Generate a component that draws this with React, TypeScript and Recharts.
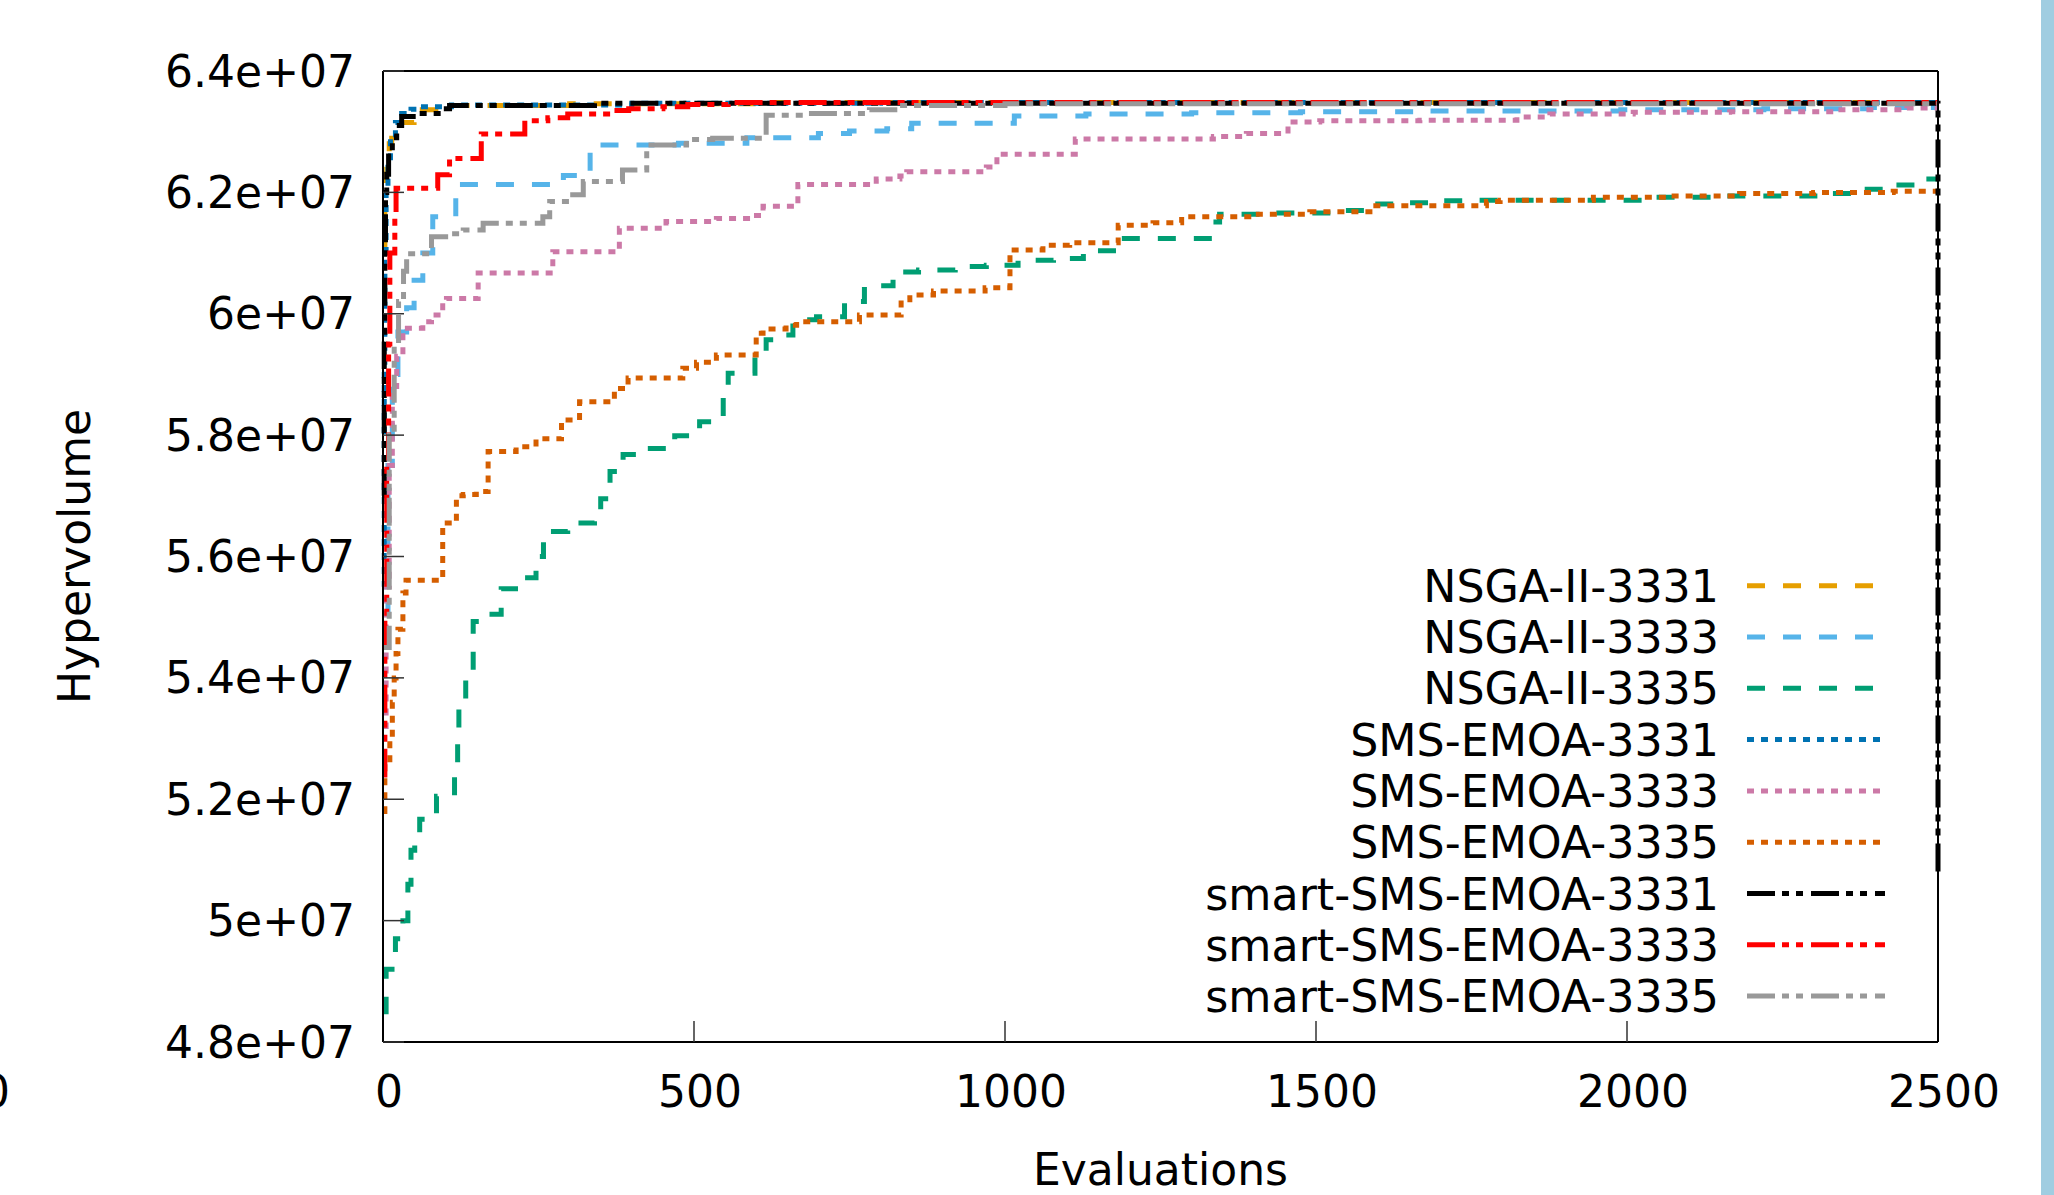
import React from "react";
import { LineChart, Line, XAxis, YAxis } from "recharts";

type Pt = [number, number];

const FONT = "DejaVu Sans";

const X_TICKS = [0, 500, 1000, 1500, 2000, 2500];
const Y_TICKS = [4.8e7, 5.0e7, 5.2e7, 5.4e7, 5.6e7, 5.8e7, 6.0e7, 6.2e7, 6.4e7];
const Y_TICK_LABELS = ["4.8e+07", "5e+07", "5.2e+07", "5.4e+07", "5.6e+07", "5.8e+07", "6e+07", "6.2e+07", "6.4e+07"];

// [evaluations, hypervolume]
const NSGA_3331: Pt[] = [
  [0, 6.10e7], [3, 6.22e7], [6, 6.25e7], [10, 6.28e7], [14, 6.30e7], [20, 6.315e7],
  [50, 6.318e7], [55, 6.336e7], [85, 6.343e7], [300, 6.346e7], [600, 6.348e7], [2500, 6.348e7],
];

const NSGA_3333: Pt[] = [
  [0, 5.45e7], [8, 5.75e7], [15, 5.90e7], [24, 5.97e7], [38, 6.01e7], [50, 6.055e7],
  [64, 6.10e7], [80, 6.16e7], [117, 6.213e7], [290, 6.228e7], [333, 6.278e7], [475, 6.281e7],
  [585, 6.290e7], [700, 6.297e7], [750, 6.301e7], [810, 6.305e7], [850, 6.314e7], [1015, 6.326e7],
  [1130, 6.329e7], [1300, 6.331e7], [1475, 6.333e7], [1667, 6.334e7], [1990, 6.336e7],
  [2220, 6.338e7], [2390, 6.340e7], [2500, 6.340e7],
];

const NSGA_3335: Pt[] = [
  [0, 4.85e7], [5, 4.92e7], [20, 4.97e7], [32, 5.00e7], [40, 5.06e7], [45, 5.116e7],
  [51, 5.13e7], [59, 5.167e7], [86, 5.205e7], [115, 5.26e7], [120, 5.31e7], [122, 5.355e7],
  [133, 5.405e7], [145, 5.493e7], [169, 5.505e7], [190, 5.547e7], [228, 5.565e7], [246, 5.60e7],
  [258, 5.641e7], [297, 5.655e7], [340, 5.675e7], [350, 5.695e7], [365, 5.74e7], [386, 5.768e7],
  [423, 5.778e7], [469, 5.799e7], [509, 5.822e7], [547, 5.869e7], [555, 5.902e7], [598, 5.935e7],
  [616, 5.957e7], [635, 5.965e7], [659, 5.990e7], [697, 5.995e7], [742, 6.02e7], [774, 6.046e7],
  [820, 6.069e7], [861, 6.072e7], [920, 6.078e7], [970, 6.080e7], [1021, 6.088e7], [1078, 6.091e7],
  [1126, 6.104e7], [1185, 6.124e7], [1335, 6.151e7], [1345, 6.164e7], [1421, 6.166e7],
  [1533, 6.170e7], [1587, 6.181e7], [1640, 6.183e7], [1696, 6.186e7], [1756, 6.187e7],
  [2042, 6.192e7], [2155, 6.194e7], [2323, 6.198e7], [2377, 6.205e7], [2428, 6.212e7],
  [2479, 6.222e7], [2500, 6.222e7],
];

const SMS_3331: Pt[] = [
  [0, 5.55e7], [2, 5.90e7], [3, 6.10e7], [5, 6.20e7], [8, 6.25e7], [12, 6.29e7], [20, 6.315e7],
  [30, 6.33e7], [45, 6.337e7], [60, 6.341e7], [110, 6.344e7], [400, 6.347e7], [800, 6.348e7],
  [2500, 6.348e7],
];

const SMS_3333: Pt[] = [
  [0, 5.32e7], [5, 5.55e7], [10, 5.75e7], [15, 5.88e7], [22, 5.93e7], [32, 5.976e7], [64, 5.987e7],
  [78, 5.998e7], [96, 6.02e7], [102, 6.025e7], [153, 6.067e7], [273, 6.102e7], [380, 6.141e7],
  [455, 6.152e7], [536, 6.157e7], [595, 6.162e7], [611, 6.177e7], [667, 6.213e7], [793, 6.222e7],
  [831, 6.227e7], [842, 6.234e7], [970, 6.242e7], [987, 6.263e7], [1113, 6.288e7], [1335, 6.292e7],
  [1388, 6.297e7], [1455, 6.316e7], [1506, 6.318e7], [1667, 6.319e7], [1823, 6.324e7],
  [1876, 6.329e7], [2010, 6.332e7], [2165, 6.333e7], [2337, 6.336e7], [2450, 6.339e7],
  [2500, 6.339e7],
];

const SMS_3335: Pt[] = [
  [0, 5.18e7], [3, 5.26e7], [11, 5.30e7], [15, 5.36e7], [18, 5.40e7], [21, 5.44e7], [24, 5.48e7],
  [32, 5.54e7], [37, 5.561e7], [96, 5.655e7], [118, 5.70e7], [129, 5.702e7], [150, 5.707e7],
  [169, 5.773e7], [214, 5.781e7], [246, 5.794e7], [287, 5.825e7], [316, 5.855e7], [372, 5.877e7],
  [394, 5.894e7], [482, 5.910e7], [504, 5.92e7], [536, 5.932e7], [600, 5.968e7], [611, 5.975e7],
  [648, 5.981e7], [665, 5.987e7], [766, 5.998e7], [833, 6.023e7], [847, 6.031e7], [885, 6.0375e7],
  [968, 6.043e7], [1008, 6.105e7], [1061, 6.113e7], [1104, 6.117e7], [1182, 6.146e7],
  [1238, 6.150e7], [1284, 6.160e7], [1399, 6.164e7], [1490, 6.168e7], [1592, 6.178e7],
  [1774, 6.185e7], [1796, 6.187e7], [1946, 6.192e7], [2070, 6.194e7], [2181, 6.198e7],
  [2300, 6.20e7], [2428, 6.202e7], [2500, 6.202e7],
];

const SMART_3331: Pt[] = [
  [0, 5.70e7], [2, 5.95e7], [3, 6.10e7], [4, 6.20e7], [6, 6.23e7], [9, 6.26e7], [15, 6.29e7],
  [22, 6.31e7], [30, 6.325e7], [54, 6.330e7], [94, 6.338e7], [107, 6.343e7], [340, 6.347e7],
  [2499, 6.347e7], [2500, 5.08e7],
];

const SMART_3333: Pt[] = [
  [0, 5.24e7], [3, 5.50e7], [6, 5.75e7], [9, 5.95e7], [11, 6.10e7], [19, 6.16e7], [21, 6.207e7],
  [88, 6.229e7], [107, 6.256e7], [158, 6.296e7], [228, 6.318e7], [265, 6.323e7], [297, 6.329e7],
  [370, 6.335e7], [395, 6.338e7], [450, 6.341e7], [490, 6.345e7], [555, 6.348e7], [2500, 6.348e7],
];

const SMART_3335: Pt[] = [
  [0, 5.45e7], [10, 5.80e7], [18, 5.95e7], [25, 6.02e7], [33, 6.07e7], [38, 6.099e7], [78, 6.127e7],
  [105, 6.132e7], [129, 6.138e7], [161, 6.149e7], [257, 6.16e7], [268, 6.185e7], [305, 6.196e7],
  [322, 6.218e7], [385, 6.237e7], [424, 6.278e7], [488, 6.287e7], [530, 6.289e7], [616, 6.327e7],
  [680, 6.330e7], [782, 6.336e7], [830, 6.343e7], [1000, 6.346e7], [2500, 6.346e7],
];

const DASHED = "18 18";
const DOTTED = "7 7";
const DASH_DOT = "28 7 7 7 7 8";

const SERIES = [
  { name: "NSGA-II-3331", data: NSGA_3331, color: "#e69f00", dash: DASHED, len: 126 },
  { name: "NSGA-II-3333", data: NSGA_3333, color: "#56b4e9", dash: DASHED, len: 126 },
  { name: "NSGA-II-3335", data: NSGA_3335, color: "#009e73", dash: DASHED, len: 126 },
  { name: "SMS-EMOA-3331", data: SMS_3331, color: "#0072b2", dash: DOTTED, len: 133 },
  { name: "SMS-EMOA-3333", data: SMS_3333, color: "#cc79a7", dash: DOTTED, len: 133 },
  { name: "SMS-EMOA-3335", data: SMS_3335, color: "#d55e00", dash: DOTTED, len: 133 },
  { name: "smart-SMS-EMOA-3331", data: SMART_3331, color: "#000000", dash: DASH_DOT, len: 138 },
  { name: "smart-SMS-EMOA-3333", data: SMART_3333, color: "#ff0000", dash: DASH_DOT, len: 138 },
  { name: "smart-SMS-EMOA-3335", data: SMART_3335, color: "#999999", dash: DASH_DOT, len: 138 },
];

const rows = (pts: Pt[]) => pts.map(([x, y]) => ({ x, y }));

const border = { stroke: "#000", strokeWidth: 2 };
const tickLine = { stroke: "#333", strokeWidth: 1.5 };
const tickText = { fill: "#000", fontSize: 44, fontFamily: FONT };

export default function App() {
  return (
    <div style={{ position: "absolute", left: 0, top: 0, width: 2054, height: 1195, background: "#fff" }}>
      <LineChart width={2054} height={1195} margin={{ top: 0, right: 0, bottom: 0, left: 0 }}>
        <XAxis
          xAxisId="b"
          dataKey="x"
          type="number"
          domain={[0, 2500]}
          ticks={X_TICKS}
          interval={0}
          height={153}
          tickSize={-21}
          tickMargin={55}
          axisLine={border}
          tickLine={tickLine}
          tick={{ ...tickText, dx: 6 }}
          label={{
            content: (p: any) => {
              const vb = p.viewBox || { x: 383, width: 1555, y: 1042 };
              return (
                <text x={vb.x + vb.width / 2} y={vb.y + 143} textAnchor="middle" fontSize={44} fontFamily={FONT} fill="#000">
                  Evaluations
                </text>
              );
            },
          }}
        />
        <XAxis
          xAxisId="t"
          orientation="top"
          type="number"
          domain={[0, 2500]}
          ticks={X_TICKS}
          interval={0}
          height={71}
          tickSize={-21}
          axisLine={border}
          tickLine={tickLine}
          tick={false}
        />
        <YAxis
          yAxisId="l"
          type="number"
          domain={[4.8e7, 6.4e7]}
          ticks={Y_TICKS}
          interval={0}
          width={383}
          tickSize={-21}
          tickMargin={49}
          axisLine={border}
          tickLine={tickLine}
          tick={tickText}
          tickFormatter={(v: number) => Y_TICK_LABELS[Y_TICKS.indexOf(v)] ?? String(v)}
          label={{
            content: (p: any) => {
              const vb = p.viewBox || { y: 71, height: 971 };
              const cy = vb.y + vb.height / 2;
              return (
                <text x={90} y={cy} transform={`rotate(-90 90 ${cy})`} textAnchor="middle" fontSize={44} fontFamily={FONT} fill="#000">
                  Hypervolume
                </text>
              );
            },
          }}
        />
        <YAxis
          yAxisId="r"
          orientation="right"
          type="number"
          domain={[4.8e7, 6.4e7]}
          ticks={Y_TICKS}
          interval={0}
          width={116}
          tickSize={-21}
          axisLine={border}
          tickLine={tickLine}
          tick={false}
        />
        {SERIES.map((s) => (
          <Line
            key={s.name}
            xAxisId="b"
            yAxisId="l"
            data={rows(s.data)}
            dataKey="y"
            name={s.name}
            type="stepAfter"
            stroke={s.color}
            strokeWidth={5}
            strokeDasharray={s.dash}
            dot={false}
            activeDot={false}
            isAnimationActive={false}
          />
        ))}
      </LineChart>
      <svg width={2054} height={1195} style={{ position: "absolute", left: 0, top: 0, pointerEvents: "none" }}>
        {SERIES.map((s, i) => {
          const cy = 585.7 + i * 51.3;
          return (
            <g key={s.name}>
              <text x={1719} y={cy + 16} textAnchor="end" fontSize={44.3} fontFamily={FONT} fill="#000">
                {s.name}
              </text>
              <line x1={1747} x2={1747 + s.len} y1={cy} y2={cy} stroke={s.color} strokeWidth={5} strokeDasharray={s.dash} />
            </g>
          );
        })}
        <text x={10} y={1107} textAnchor="end" fontSize={44} fontFamily={FONT} fill="#000">0</text>
        <rect x={2041} y={0} width={13} height={1195} fill="#a0cde1" />
      </svg>
    </div>
  );
}
